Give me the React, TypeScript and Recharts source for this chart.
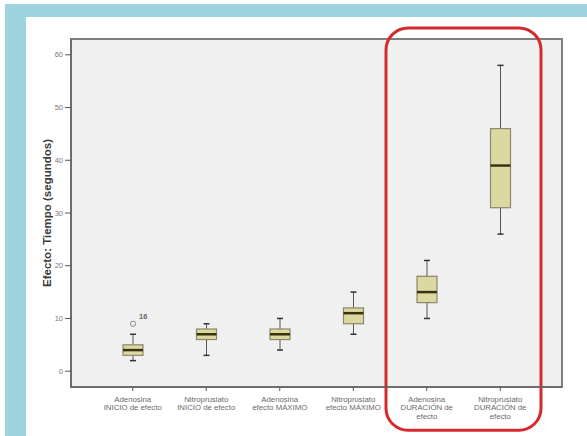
import React from 'react';
import { ComposedChart, Bar, XAxis, YAxis, ReferenceArea } from 'recharts';

// Categories and box-plot statistics (seconds)
const categories = [
  'Adenosina\nINICIO de efecto',
  'Nitroprusiato\nINICIO de efecto',
  'Adenosina\nefecto MÁXIMO',
  'Nitroprusiato\nefecto MÁXIMO',
  'Adenosina\nDURACIÓN de\nefecto',
  'Nitroprusiato\nDURACIÓN de\nefecto',
];
const whiskerLow = [2, 3, 4, 7, 10, 26];
const q1 = [3, 6, 6, 9, 13, 31];
const median = [4, 7, 7, 11, 15, 39];
const q3 = [5, 8, 8, 12, 18, 46];
const whiskerHigh = [7, 9, 10, 15, 21, 58];
// outliers per category: [value, case label]
const outliers: [number, string][][] = [[[9, '16']], [], [], [], [], []];
const yTicks = [0, 10, 20, 30, 40, 50, 60];

const data = categories.map((name, i) => ({
  name,
  range: [whiskerLow[i], whiskerHigh[i]],
  lo: whiskerLow[i],
  q1: q1[i],
  med: median[i],
  q3: q3[i],
  hi: whiskerHigh[i],
  out: outliers[i],
}));

const FONT = '"Liberation Sans", Arial, sans-serif';

// chart geometry
const CHART_W = 561;
const CHART_H = 419;
const MARGIN = { top: 22, right: 25, left: 0, bottom: 0 };
const Y_AXIS_W = 45;
const X_AXIS_H = 49;
const PLOT = {
  left: MARGIN.left + Y_AXIS_W,
  top: MARGIN.top,
  right: CHART_W - MARGIN.right,
  bottom: CHART_H - MARGIN.bottom - X_AXIS_H,
};

const BoxShape = (props: any) => {
  const { x, y, width, height, payload } = props;
  const top = Math.min(y, y + height);
  const h = Math.abs(height);
  const { lo, hi } = payload;
  const py = (v: number) => top + ((hi - v) / (hi - lo)) * h;
  const cx = x + width / 2;
  const cap = 3;
  return (
    <g>
      <line x1={cx} x2={cx} y1={py(hi)} y2={py(payload.q3)} stroke="#555" strokeWidth={1} />
      <line x1={cx} x2={cx} y1={py(payload.q1)} y2={py(lo)} stroke="#555" strokeWidth={1} />
      <line x1={cx - cap} x2={cx + cap} y1={py(hi)} y2={py(hi)} stroke="#333" strokeWidth={1.5} />
      <line x1={cx - cap} x2={cx + cap} y1={py(lo)} y2={py(lo)} stroke="#333" strokeWidth={1.5} />
      <rect
        x={x}
        y={py(payload.q3)}
        width={width}
        height={py(payload.q1) - py(payload.q3)}
        fill="#ddd8a2"
        stroke="#8a876a"
        strokeWidth={1.2}
      />
      <line x1={x} x2={x + width} y1={py(payload.med)} y2={py(payload.med)} stroke="#3a3310" strokeWidth={2.5} />
      {payload.out.map(([v, lab]: [number, string], k: number) => (
        <g key={k}>
          <circle cx={cx} cy={py(v)} r={2.6} fill="none" stroke="#888" strokeWidth={1} />
          <text x={cx + 6} y={py(v) - 5} fontSize={7.5} fontWeight="bold" fill="#666" fontFamily={FONT}>
            {lab}
          </text>
        </g>
      ))}
    </g>
  );
};

const CategoryTick = (props: any) => {
  const { x, y, payload } = props;
  const lines: string[] = String(payload.value).split('\n');
  return (
    <g>
      {lines.map((ln, i) => (
        <text
          key={i}
          x={x}
          y={y + 9 + i * 8.4}
          textAnchor="middle"
          fontSize={7.8}
          fill="#6a6a6a"
          fontFamily={FONT}
        >
          {ln}
        </text>
      ))}
    </g>
  );
};

const Highlight = (props: any) => {
  const { x, y, width, height } = props;
  return (
    <rect
      x={x - 4}
      y={y}
      width={width + 8}
      height={height}
      rx={22}
      ry={22}
      fill="none"
      stroke="#d42a2e"
      strokeWidth={3}
    />
  );
};

export default function App() {
  return (
    <div
      style={{
        position: 'absolute',
        left: 0,
        top: 0,
        width: 587,
        height: 436,
        background: '#ffffff',
        overflow: 'hidden',
      }}
    >
      <div
        style={{
          position: 'absolute',
          left: 5,
          top: 4,
          width: 582,
          height: 432,
          background: '#9dd4e0',
        }}
      />
      <div
        style={{
          position: 'absolute',
          left: 26,
          top: 17,
          width: CHART_W,
          height: CHART_H,
          background: '#ffffff',
        }}
      >
        {/* plot background and frame, behind the chart layer */}
        <svg
          width={CHART_W}
          height={CHART_H}
          style={{ position: 'absolute', left: 0, top: 0 }}
        >
          <rect
            x={PLOT.left}
            y={PLOT.top}
            width={PLOT.right - PLOT.left}
            height={PLOT.bottom - PLOT.top}
            fill="#f0f0f0"
            stroke="#7f7f7f"
            strokeWidth={2}
          />
        </svg>
        <div style={{ position: 'absolute', left: 0, top: 0 }}>
          <ComposedChart
            width={CHART_W}
            height={CHART_H}
            data={data}
            margin={MARGIN}
            barCategoryGap={0}
          >
            <XAxis
              dataKey="name"
              type="category"
              padding={{ left: 25, right: 25 }}
              height={X_AXIS_H}
              axisLine={{ stroke: '#666', strokeWidth: 1.5 }}
              tickLine={{ stroke: '#555' }}
              tickSize={4}
              interval={0}
              tick={<CategoryTick />}
            />
            <YAxis
              type="number"
              domain={[-3, 63]}
              ticks={yTicks}
              width={Y_AXIS_W}
              axisLine={{ stroke: '#666', strokeWidth: 1.5 }}
              tickLine={{ stroke: '#555' }}
              tickSize={6}
              tick={{ fontSize: 7.5, fill: '#7a7a7a', fontFamily: FONT }}
              label={{
                value: 'Efecto: Tiempo (segundos)',
                angle: -90,
                position: 'insideLeft',
                offset: 21,
                style: { textAnchor: 'middle', fontSize: 11.5, fontWeight: 'bold', fill: '#3a3a3a', fontFamily: FONT },
              }}
            />
            <Bar dataKey="range" barSize={20} shape={<BoxShape />} isAnimationActive={false} />
            <ReferenceArea
              x1={categories[4]}
              x2={categories[5]}
              y1={-11.2}
              y2={65.1}
              ifOverflow="visible"
              shape={<Highlight />}
            />
          </ComposedChart>
        </div>
      </div>
    </div>
  );
}
